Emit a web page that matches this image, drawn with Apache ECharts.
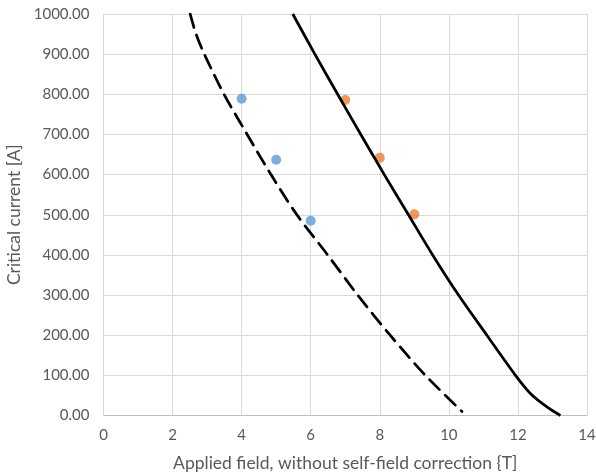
<!DOCTYPE html>
<html><head><meta charset="utf-8">
<script src="https://cdn.jsdelivr.net/npm/echarts@6/dist/echarts.min.js"></script>
<style>html,body{margin:0;padding:0;background:#fff}#c{width:596px;height:474px}</style>
</head><body><div id="c"></div>
<script>
const bluePoints = [[4, 789], [5, 637], [6, 485]];
const orangePoints = [[7, 786], [8, 642], [9, 501]];
const dashedCurve = [[2.51,1000],[2.68,950],[2.92,900],[3.49,800],[4.16,700],[4.85,600],[5.60,500],[6.49,400],[7.36,300],[8.30,200],[9.32,100],[10.38,10]];
const solidCurve = [[5.48,1000],[6.12,900],[6.78,800],[7.45,700],[8.13,600],[8.83,500],[9.53,400],[10.28,300],[11.10,200],[11.93,100],[12.36,55],[12.86,20],[13.23,0]];
const xTitle = 'Applied field, without self-field correction {T]';
const yTitle = 'Critical current [A]';

const font = 'Lato, "Open Sans", sans-serif';
const chart = echarts.init(document.getElementById('c'), null, {renderer:'canvas'});
chart.setOption({
  animation:false,
  grid:{left:103.5, right:9, top:14, bottom:58.5, containLabel:false, outerBoundsMode:'none'},
  xAxis:{type:'value', min:0, max:14, interval:2,
    name:xTitle, nameLocation:'middle', nameGap:39,
    nameTextStyle:{color:'#595959', fontSize:17.5, fontFamily:font},
    axisLine:{show:true, lineStyle:{color:'#bfbfbf'}}, axisTick:{show:false},
    axisLabel:{color:'#595959', fontSize:15, fontFamily:font, margin:12},
    splitLine:{show:true, lineStyle:{color:'#d9d9d9'}}},
  yAxis:{type:'value', min:0, max:1000, interval:100,
    name:yTitle, nameLocation:'middle', nameGap:75,
    nameTextStyle:{color:'#595959', fontSize:17.5, fontFamily:font},
    axisLine:{show:false}, axisTick:{show:false},
    axisLabel:{color:'#595959', fontSize:15, fontFamily:font, margin:14, formatter:v=>v.toFixed(2)},
    splitLine:{show:true, lineStyle:{color:'#d9d9d9'}}},
  series:[
    {type:'line', data:dashedCurve, smooth:0.3, showSymbol:false, symbol:'none',
     lineStyle:{color:'#000', width:2.75, type:[14,8], cap:'round'}},
    {type:'line', data:solidCurve, smooth:0.3, showSymbol:false, symbol:'none',
     lineStyle:{color:'#000', width:2.75}},
    {type:'scatter', data:bluePoints, symbolSize:10, itemStyle:{color:'#5b9bd5'}},
    {type:'scatter', data:orangePoints, symbolSize:10, itemStyle:{color:'#ed7d31'}}
  ]
});
</script></body></html>
